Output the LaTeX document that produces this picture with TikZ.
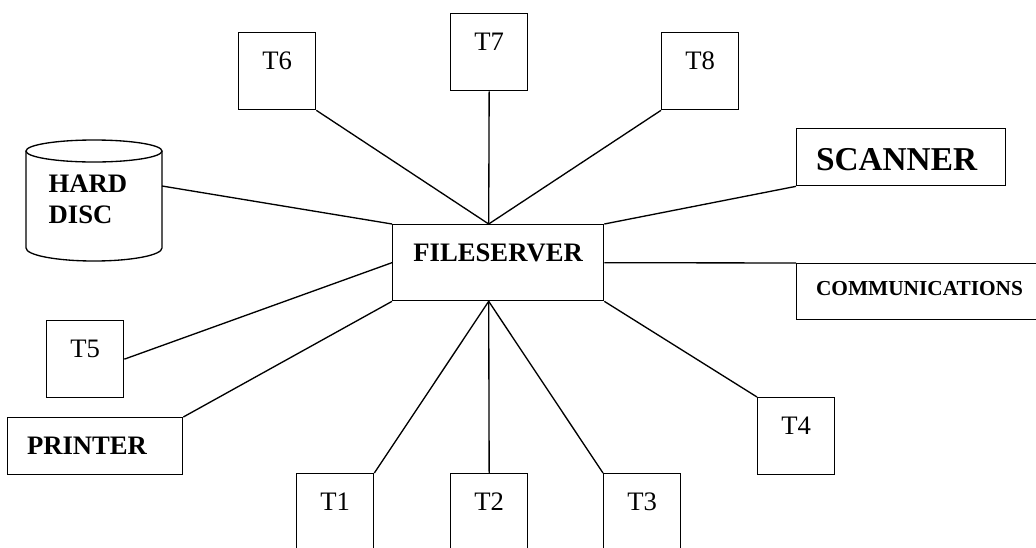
\documentclass[tikz,border=0pt]{standalone}
\usepackage{fontspec}
\setmainfont{Liberation Serif}
\usepackage{tikz}

\begin{document}
\begin{tikzpicture}[x=0.75pt,y=-0.75pt,line width=1pt,
  term/.style={draw,anchor=north west,inner sep=0pt,minimum width=57.75pt,
    text height=27.75pt,text depth=30pt,font=\fontsize{20}{24}\selectfont},
  dev/.style={draw,anchor=north west,inner ysep=0pt,inner xsep=14.5pt,align=left,
    font=\fontsize{20}{24}\selectfont\bfseries}]
\useasboundingbox (0,0) rectangle (1036,547);
\clip (0,0) rectangle (1036,547);

\node [draw,anchor=north west,inner sep=0pt,minimum width=158.25pt,text height=27.75pt,
  text depth=29.25pt,font=\fontsize{20}{24}\selectfont\bfseries] (fs) at (392,224) {FILESERVER};
\coordinate (fstop) at ([xshift=-7.1pt]fs.north);
\coordinate (fsbot) at ([xshift=-7.1pt]fs.south);

\node [term] (t6) at (238,32) {T6};
\node [term] (t7) at (450,13) {T7};
\node [term] (t8) at (661,32) {T8};
\node [term] (t5) at (46,320) {T5};
\node [term] (t4) at (757,397) {T4};
\node [term] (t1) at (296,473) {T1};
\node [term] (t2) at (450,473) {T2};
\node [term] (t3) at (603,473) {T3};

\node [dev,text width=127.75pt,text height=31.5pt,text depth=11.25pt,
  font=\fontsize{25}{30}\selectfont\bfseries] (sc) at (796,128) {SCANNER};
\node [dev,text width=180pt,text height=24pt,text depth=18pt,
  font=\fontsize{16}{19}\selectfont\bfseries] (co) at (796,263) {COMMUNICATIONS};
\node [dev,text width=102.25pt,text height=27.75pt,text depth=15pt] (pr) at (7,417) {PRINTER};

\draw (26,151) -- (26,248) arc [start angle=180,end angle=360,x radius=51pt,y radius=9.75pt] -- (162,151);
\draw (94,151) ellipse [x radius=51pt,y radius=8.25pt];
\node [anchor=base west,align=left,inner sep=0pt,font=\fontsize{20}{23.25}\selectfont\bfseries]
  (hdtxt) at (48,223) {HARD\\DISC};
\coordinate (hd) at (162,186);

\draw (hd) -- (fs.north west);
\draw (t6.south east) -- (fstop);
\draw (t7.south) -- (fstop);
\draw (t8.south west) -- (fstop);
\draw (sc.south west) -- (fs.north east);
\draw (fs.east) -- (co.north west);
\draw (t4.north west) -- (fs.south east);
\draw (t3.north west) -- (fsbot);
\draw (t2.north) -- (fsbot);
\draw (t1.north east) -- (fsbot);
\draw (pr.north east) -- (fs.south west);
\draw (t5.east) -- (fs.west);
\end{tikzpicture}
\end{document}
